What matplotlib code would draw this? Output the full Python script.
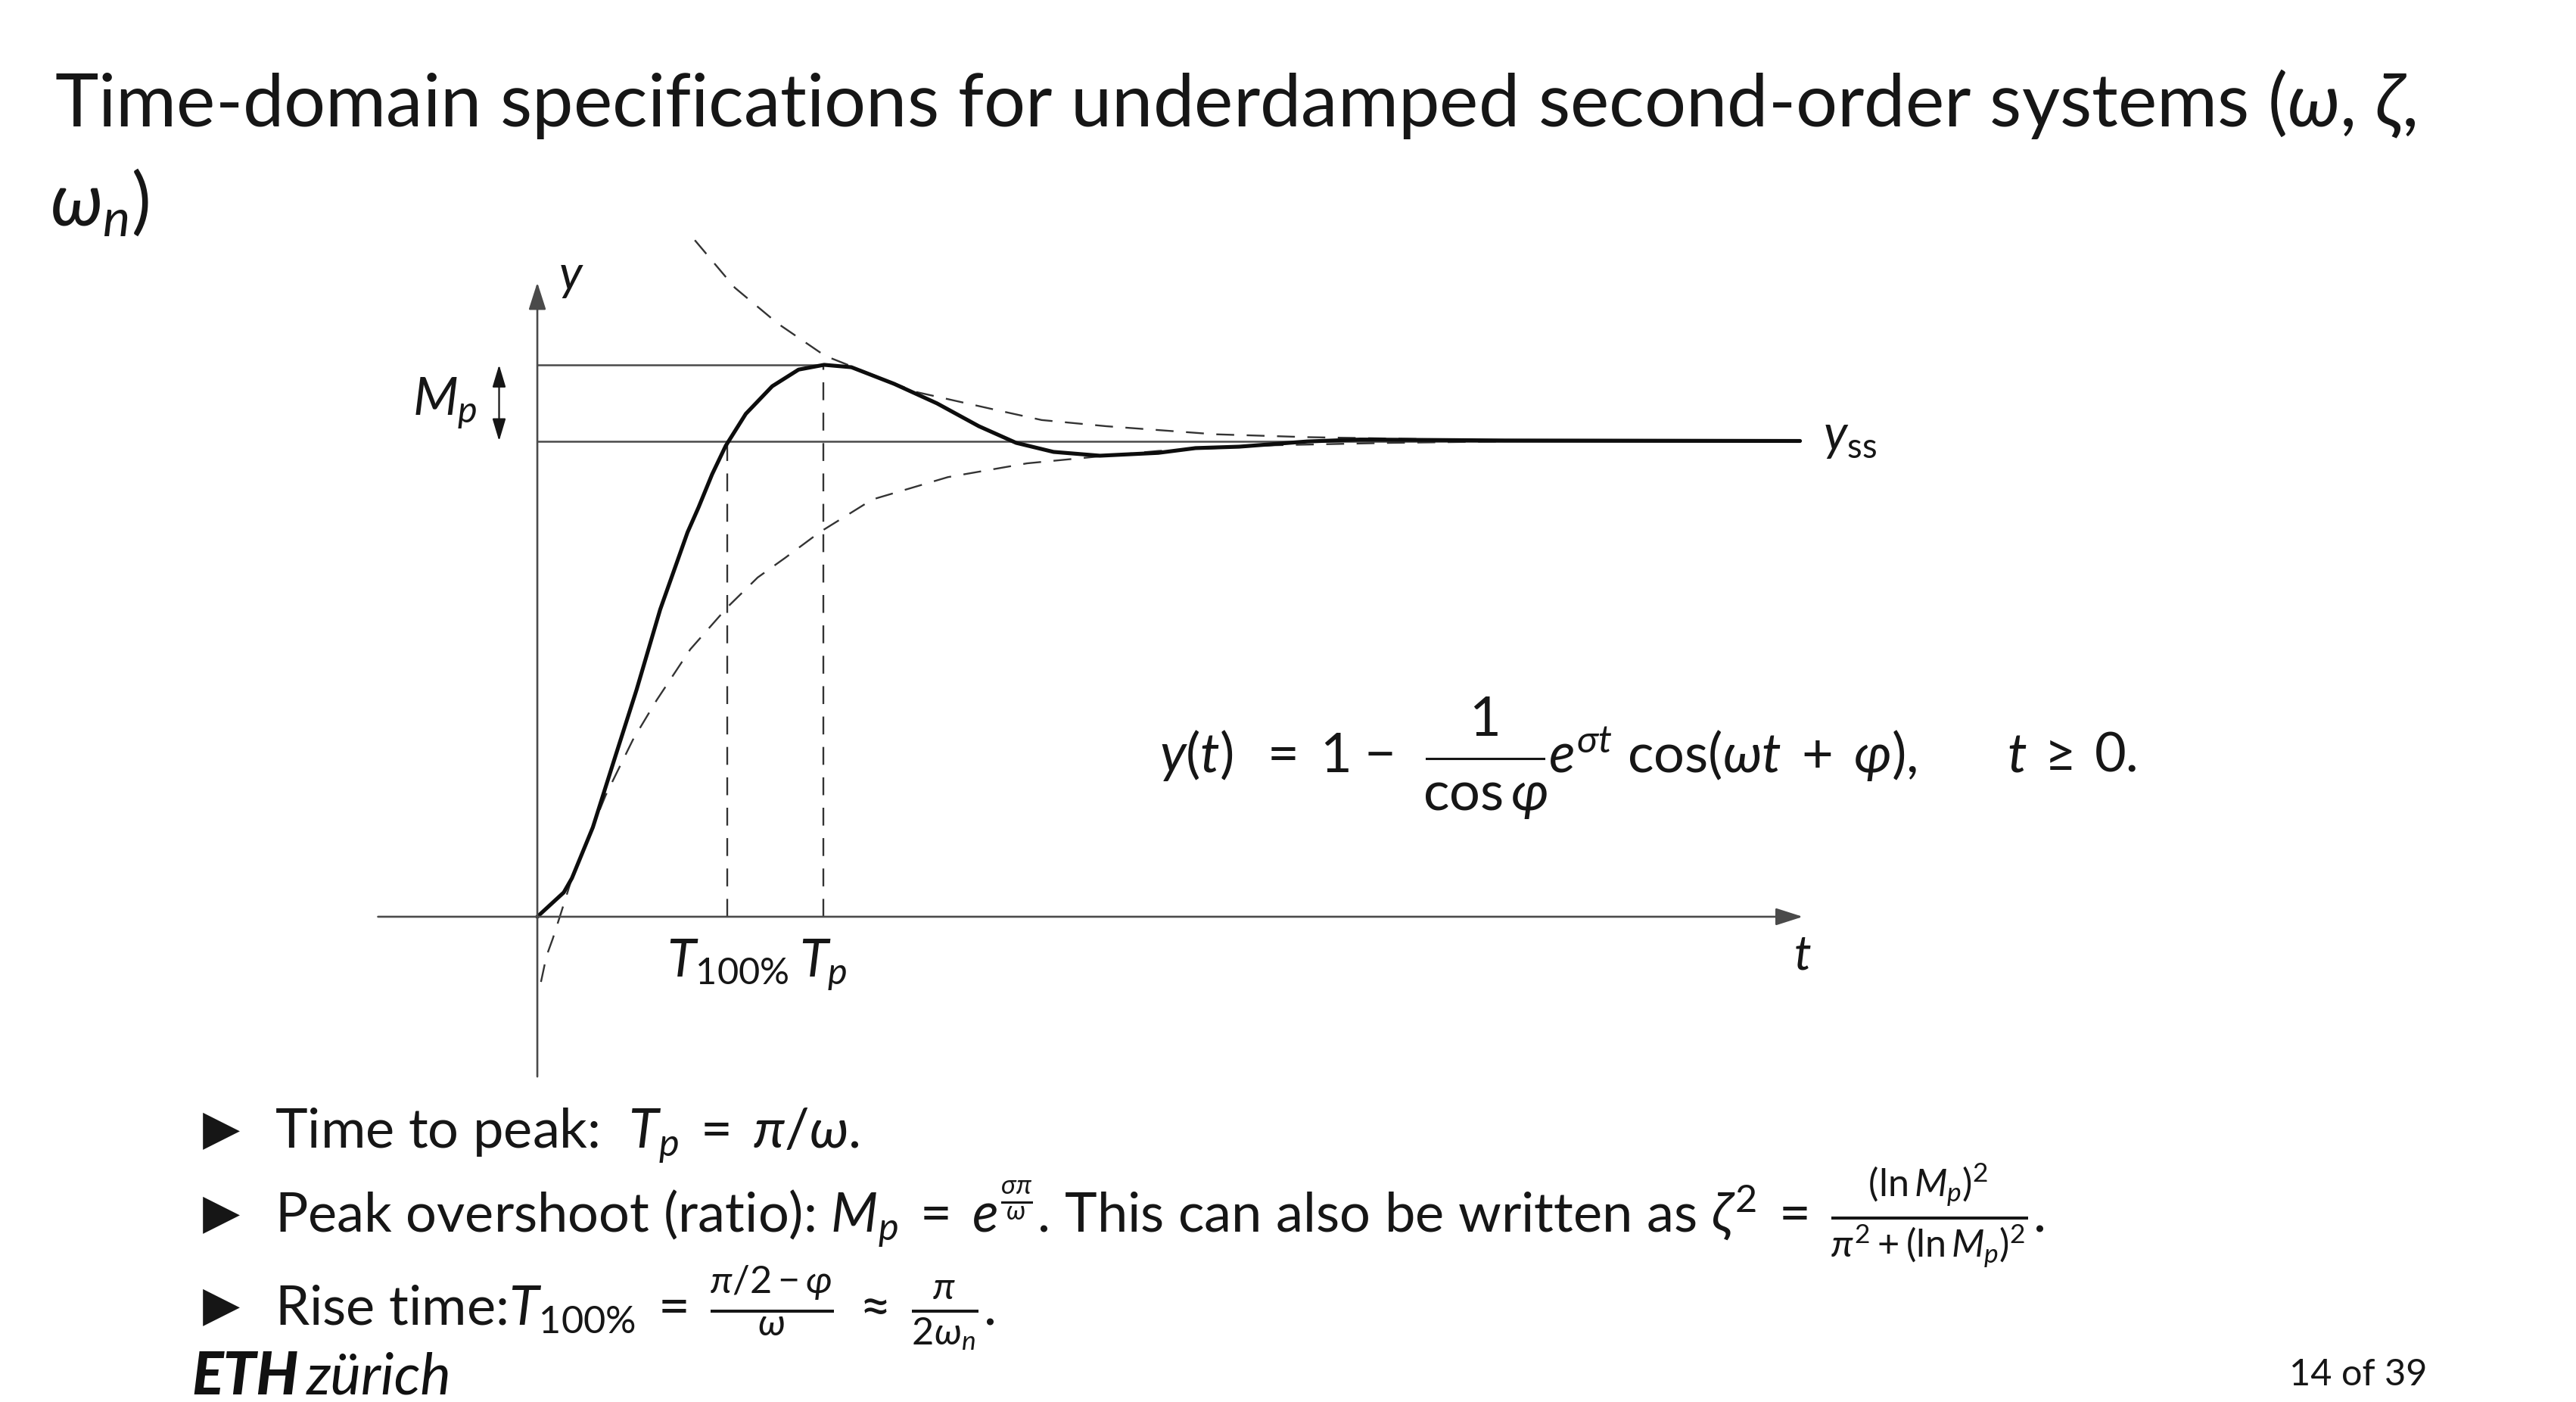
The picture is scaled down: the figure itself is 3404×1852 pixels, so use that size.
"""
Slide figure: time-domain specs of an underdamped second-order step response.
Curve values are read off the reference slide (t in units of 1/omega, y in units of y_ss).
"""

import matplotlib
matplotlib.use("Agg")
import matplotlib.pyplot as plt
from matplotlib.lines import Line2D

plt.rcParams["font.family"] = ["Lato", "DejaVu Sans"]
plt.rcParams["mathtext.fontset"] = "custom"
plt.rcParams["mathtext.rm"] = "Lato"
plt.rcParams["mathtext.it"] = "Lato:italic"
plt.rcParams["mathtext.bf"] = "Lato:bold"
plt.rcParams["mathtext.sf"] = "Lato"
plt.rcParams["mathtext.fallback"] = "stixsans"

W, H = 3405, 1852

# step response y(t)
t_resp = [0.00, 0.29, 0.38, 0.61, 0.86, 1.09, 1.35, 1.65, 1.77, 1.92, 2.07, 2.29, 2.58,
          2.87, 3.15, 3.45, 3.92, 4.39, 4.85, 5.26, 5.67, 6.18, 6.82, 7.23, 7.71,
          8.46, 9.04, 10.63, 13.87]
y_resp = [0.000, 0.051, 0.081, 0.188, 0.339, 0.477, 0.646, 0.808, 0.860, 0.930, 0.990, 1.057, 1.115,
          1.150, 1.160, 1.155, 1.120, 1.079, 1.031, 0.996, 0.977, 0.969, 0.975, 0.985, 0.988,
          0.999, 1.003, 1.001, 1.000]

# upper decay envelope
t_upper = [1.73, 2.17, 2.64, 3.16, 4.16, 5.09, 5.54, 6.25, 7.45, 8.46, 10.63]
y_upper = [1.422, 1.322, 1.247, 1.179, 1.103, 1.063, 1.044, 1.031, 1.014, 1.008, 1.001]

# lower decay envelope
t_lower = [0.04, 0.10, 0.17, 0.27, 0.38, 0.75, 1.05, 1.31, 1.68, 2.09, 2.42, 2.72,
           3.10, 3.68, 4.51, 5.38, 6.25, 6.82, 8.09, 9.36, 10.63]
y_lower = [-0.137, -0.083, -0.046, 0.014, 0.081, 0.255, 0.372, 0.455, 0.562, 0.651, 0.713, 0.754,
           0.808, 0.877, 0.924, 0.953, 0.969, 0.979, 0.991, 0.996, 0.999]

# marked quantities
t_rise = 2.09      # T_100%
t_peak = 3.14      # T_p
y_peak = 1.16      # 1 + M_p
y_ss = 1.0
t_end = 13.87

t_axis = (-1.75, 13.9)
y_axis = (-0.336, 1.333)

title_1 = r"Time-domain specifications for underdamped second-order systems ($\omega$, $\zeta$,"
title_2 = r"$\omega_n$)"
bullets = [
    r"Time to peak:  $T_p \;=\; \pi/\omega$.",
    r"Peak overshoot (ratio): $M_p \;=\; e^{\frac{\sigma\pi}{\omega}}$. This can also be written as "
    r"$\zeta^2 \;=\; \frac{(\ln M_p)^2}{\pi^2 + (\ln M_p)^2}$.",
    r"Rise time:$T_{100\%} \;=\; \frac{\pi/2 - \varphi}{\omega} \;\approx\; \frac{\pi}{2\omega_n}$.",
]
page = "14 of 39"

# y(t) = 1 - e^{sigma t} cos(omega t + phi) / cos(phi), laid out piece by piece
# (pixel x, text, horizontal anchor)
formula_pieces = [(1581, r"$y(t)$", "center"), (1696, "=", "center"), (1765, "1", "center"),
                  (1824, "\u2212", "center"), (2046, r"$e^{\sigma t}$", "left"),
                  (2150, r"$\cos(\omega t \;+\; \varphi),$", "left"),
                  (2665, r"$t$", "center"), (2723, "\u2265", "center"), (2797, "0.", "center")]
frac_num, frac_den = "1", r"$\cos\varphi$"

INK = "#161616"
AXIS = "#4a4a4a"


def fpos(x, y):
    """pixel position on the slide -> figure fraction"""
    return x / W, 1 - y / H


fig = plt.figure(figsize=(W / 100, H / 100), dpi=100)
fig.patch.set_facecolor("white")

ax = fig.add_axes([500 / W, 1 - 1430 / H, 1900 / W, 1130 / H])
ax.set_xlim(-1.746, 14.048)
ax.set_ylim(-0.3485, 1.4495)
ax.set_axis_off()

axis_arrow = dict(arrowstyle="-|>,head_length=1.0,head_width=0.32", mutation_scale=22,
                  color=AXIS, lw=1.9, shrinkA=0, shrinkB=0)
ax.annotate("", xy=(t_axis[1], 0), xytext=(t_axis[0], 0), arrowprops=axis_arrow)
ax.annotate("", xy=(0, y_axis[1]), xytext=(0, y_axis[0]), arrowprops=axis_arrow)

ax.hlines(y_peak, 0, t_peak, color=AXIS, lw=1.8)
ax.hlines(y_ss, 0, t_end, color=AXIS, lw=1.8)

dash = dict(color="#333333", lw=1.7, dashes=(10, 7))
ax.vlines(t_rise, 0, y_ss, linestyles=(0, (10, 7)), color="#333333", lw=1.7)
ax.vlines(t_peak, 0, y_peak, linestyles=(0, (10, 7)), color="#333333", lw=1.7)
ax.plot(t_upper, y_upper, **dash)
ax.plot(t_lower, y_lower, **dash)

ax.plot(t_resp, y_resp, color="#0d0d0d", lw=3.7, solid_joinstyle="round", solid_capstyle="round")

ax.annotate("", xy=(-0.42, y_peak), xytext=(-0.42, y_ss),
            arrowprops=dict(arrowstyle="<|-|>,head_length=1.0,head_width=0.3", mutation_scale=18,
                            color=INK, lw=1.6, shrinkA=0, shrinkB=0))

ax.text(-0.66, 1.055, r"$M_p$", fontsize=50, color=INK, ha="right", va="baseline")
ax.text(0.23, 1.317, r"$y$", fontsize=46, color=INK, ha="left", va="baseline")
ax.text(t_axis[1], -0.111, r"$t$", fontsize=46, color=INK, ha="center", va="baseline")
ax.text(14.12, 0.980, r"$y_{\mathrm{ss}}$", fontsize=47, color=INK, ha="left", va="baseline")
ax.text(t_rise, -0.126, r"$T_{100\%}$", fontsize=50, color=INK, ha="center", va="baseline")
ax.text(t_peak, -0.126, r"$T_p$", fontsize=50, color=INK, ha="center", va="baseline")

# formula inside the plot area
for x, piece, anchor in formula_pieces:
    fig.text(*fpos(x, 1020), piece, fontsize=52, color=INK, ha=anchor, va="baseline")
fig.text(*fpos(1962, 972), frac_num, fontsize=52, color=INK, ha="center", va="baseline")
fig.text(*fpos(1962, 1070), frac_den, fontsize=52, color=INK, ha="center", va="baseline")
x0, yb = fpos(1885, 1002)
x1, _ = fpos(2040, 1002)
fig.add_artist(Line2D([x0, x1], [yb, yb], transform=fig.transFigure, color=INK, lw=2.2))

# slide text
fig.text(*fpos(72, 167), title_1, fontsize=70, color=INK, va="baseline")
fig.text(*fpos(66, 298), title_2, fontsize=70, color=INK, va="baseline")

for text, base in zip(bullets, [1517, 1628, 1750]):
    fig.text(*fpos(268, base - 6), "\u25b6", fontsize=46, color=INK, va="baseline", family="DejaVu Sans")
    fig.text(*fpos(363, base), text, fontsize=52, color=INK, va="baseline")

fig.text(*fpos(253, 1842), "ETH", fontsize=56, color="#111111", va="baseline",
         weight="black", style="italic")
fig.text(*fpos(405, 1842), "zürich", fontsize=55, color="#111111", va="baseline",
         weight="normal", style="italic")
fig.text(*fpos(3025, 1830), page, fontsize=35, color=INK, va="baseline")

fig.savefig("out.png", dpi=100, facecolor="white")
